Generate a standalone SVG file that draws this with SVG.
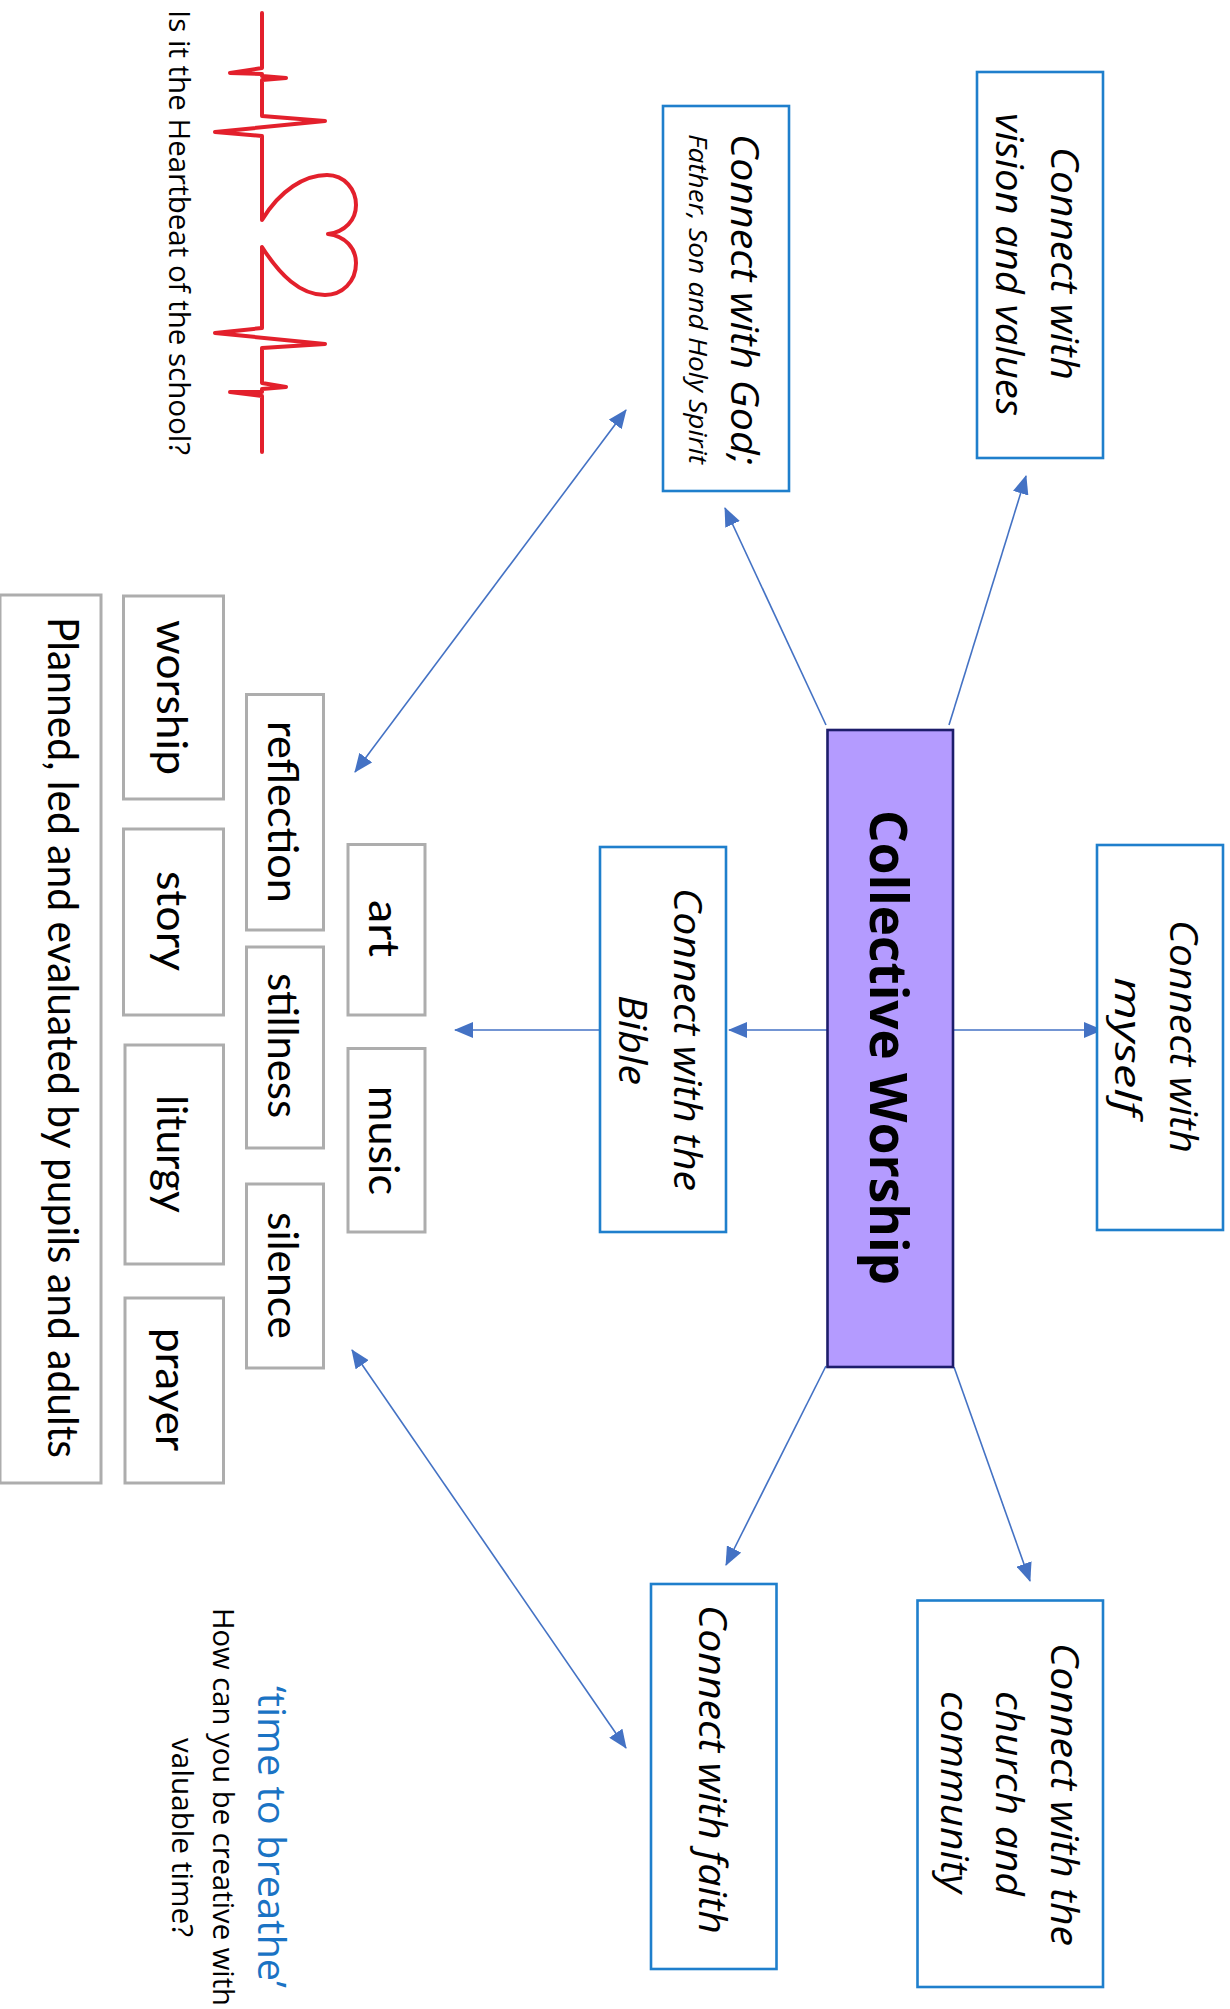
<svg xmlns="http://www.w3.org/2000/svg" width="1230" height="2009" viewBox="0 0 1230 2009">
<style>
.b{fill:#fff;stroke:#1f7fcc;stroke-width:2.6}
.g{fill:#fff;stroke:#adadad;stroke-width:3}
.c{fill:none;stroke:#4472c4;stroke-width:1.6}
.i{font-family:"Open Sans","Liberation Sans",sans-serif;font-style:italic;font-size:38px;fill:#000}
.l{font-family:"Lato","Liberation Sans",sans-serif;font-size:42px;fill:#000}
.n{font-family:"Open Sans","Liberation Sans",sans-serif;font-size:29px;fill:#000}
</style>
<defs>
<marker id="a" viewBox="0 0 19 16" refX="18" refY="8" markerUnits="userSpaceOnUse" markerWidth="19" markerHeight="16" orient="auto-start-reverse"><path d="M0 0L19 8L0 16Z" fill="#4472c4"/></marker>
</defs>
<rect width="1230" height="2009" fill="#fff"/>
<g id="connectors">
<line class="c" x1="949" y1="725" x2="1026" y2="476" marker-end="url(#a)"/>
<line class="c" x1="826" y1="725" x2="725" y2="508" marker-end="url(#a)"/>
<line class="c" x1="954" y1="1030" x2="1102" y2="1030" marker-end="url(#a)"/>
<line class="c" x1="827" y1="1030" x2="729" y2="1030" marker-end="url(#a)"/>
<line class="c" x1="599" y1="1030" x2="455" y2="1030" marker-end="url(#a)"/>
<line class="c" x1="954" y1="1367" x2="1030" y2="1581" marker-end="url(#a)"/>
<line class="c" x1="826" y1="1366" x2="726" y2="1565" marker-end="url(#a)"/>
<line class="c" x1="626" y1="410" x2="355" y2="772" marker-start="url(#a)" marker-end="url(#a)"/>
<line class="c" x1="626" y1="1748" x2="352" y2="1350" marker-start="url(#a)" marker-end="url(#a)"/>
</g>
<g id="heartbeat">
<path fill="none" stroke="#e3202c" stroke-width="4" stroke-linejoin="round" stroke-linecap="round" d="M262 13V68L230 73L262 74V76L286 78L262 80V116L325 121L215 132L262 136V220C280 190 305 175 327 175C345 175 356 190 356 205C356 220 345 232 328 234C345 236 356 248 356 263C356 282 342 295 325 295C300 295 280 275 262 247V328L215 333L325 344L262 348V383L286 387L262 389V392L230 392L262 396V452"/>
<text class="n" transform="translate(169,10) rotate(90)" textLength="445" lengthAdjust="spacingAndGlyphs">Is it the Heartbeat of the school?</text>
</g>
<g id="vision"><rect class="b" x="977" y="72" width="126" height="386"/>
<text class="i" transform="translate(1051,147) rotate(90)" textLength="233" lengthAdjust="spacingAndGlyphs">Connect with</text>
<text class="i" transform="translate(996,113) rotate(90)" textLength="303" lengthAdjust="spacingAndGlyphs">vision and values</text></g>
<g id="god"><rect class="b" x="663" y="106" width="126" height="385"/>
<text class="i" transform="translate(731,134) rotate(90)" textLength="331" lengthAdjust="spacingAndGlyphs">Connect with God;</text>
<text class="i" style="font-size:26px" transform="translate(689,134) rotate(90)" textLength="330" lengthAdjust="spacingAndGlyphs">Father, Son and Holy Spirit</text></g>
<g id="center"><rect x="827.5" y="730" width="125.5" height="637" fill="#b49bff" stroke="#1d1d6b" stroke-width="2.6"/>
<text transform="translate(870,810) rotate(90)" font-family="'Open Sans','Liberation Sans',sans-serif" font-weight="700" font-size="52" fill="#000" textLength="475" lengthAdjust="spacingAndGlyphs">Collective Worship</text></g>
<g id="myself"><rect class="b" x="1097" y="845" width="126" height="385"/>
<text class="i" transform="translate(1170,920) rotate(90)" textLength="233" lengthAdjust="spacingAndGlyphs">Connect with</text>
<text class="i" style="font-size:36px" transform="translate(1115,977) rotate(90)" textLength="139" lengthAdjust="spacingAndGlyphs">myself</text></g>
<g id="bible"><rect class="b" x="600" y="847" width="126" height="385"/>
<text class="i" transform="translate(674,888) rotate(90)" textLength="303" lengthAdjust="spacingAndGlyphs">Connect with the</text>
<text class="i" transform="translate(619,995) rotate(90)" textLength="90" lengthAdjust="spacingAndGlyphs">Bible</text></g>
<g id="church"><rect class="b" x="917.5" y="1600.5" width="185.5" height="386.5"/>
<text class="i" transform="translate(1051,1643) rotate(90)" textLength="303" lengthAdjust="spacingAndGlyphs">Connect with the</text>
<text class="i" transform="translate(996,1691) rotate(90)" textLength="205" lengthAdjust="spacingAndGlyphs">church and</text>
<text class="i" transform="translate(941,1691) rotate(90)" textLength="202" lengthAdjust="spacingAndGlyphs">community</text></g>
<g id="faith"><rect class="b" x="651" y="1584" width="125.5" height="385"/>
<text class="i" transform="translate(699,1605) rotate(90)" textLength="329" lengthAdjust="spacingAndGlyphs">Connect with faith</text></g>
<g id="art"><rect class="g" x="348" y="844.5" width="77" height="170.5"/>
<text class="l" transform="translate(369,900) rotate(90)" textLength="57" lengthAdjust="spacingAndGlyphs">art</text></g>
<g id="music"><rect class="g" x="348" y="1048.5" width="77" height="183.5"/>
<text class="l" transform="translate(369,1086) rotate(90)" textLength="109" lengthAdjust="spacingAndGlyphs">music</text></g>
<g id="reflection"><rect class="g" x="246.5" y="694.5" width="77" height="235.5"/>
<text class="l" transform="translate(268,721) rotate(90)" textLength="182" lengthAdjust="spacingAndGlyphs">reflection</text></g>
<g id="stillness"><rect class="g" x="246.5" y="947" width="77" height="201"/>
<text class="l" transform="translate(268,973) rotate(90)" textLength="145" lengthAdjust="spacingAndGlyphs">stillness</text></g>
<g id="silence"><rect class="g" x="246.5" y="1184" width="77" height="184"/>
<text class="l" transform="translate(268,1212) rotate(90)" textLength="127" lengthAdjust="spacingAndGlyphs">silence</text></g>
<g id="worship"><rect class="g" x="123.5" y="596" width="100" height="203"/>
<text class="l" transform="translate(157,620) rotate(90)" textLength="155" lengthAdjust="spacingAndGlyphs">worship</text></g>
<g id="story"><rect class="g" x="123.5" y="829" width="100" height="186"/>
<text class="l" transform="translate(157,871) rotate(90)" textLength="100" lengthAdjust="spacingAndGlyphs">story</text></g>
<g id="liturgy"><rect class="g" x="125" y="1045" width="98.5" height="219"/>
<text class="l" transform="translate(157,1095) rotate(90)" textLength="118" lengthAdjust="spacingAndGlyphs">liturgy</text></g>
<g id="prayer"><rect class="g" x="125" y="1298" width="98.5" height="185"/>
<text class="l" transform="translate(156,1328) rotate(90)" textLength="123" lengthAdjust="spacingAndGlyphs">prayer</text></g>
<g id="planned"><rect class="g" x="0" y="595" width="101" height="888"/>
<text class="l" transform="translate(48,617) rotate(90)" textLength="841" lengthAdjust="spacingAndGlyphs">Planned, led and evaluated by pupils and adults</text></g>
<g id="breathe">
<text transform="translate(258,1686) rotate(90)" font-family="'Open Sans','Liberation Sans',sans-serif" font-size="38" fill="#1a73c4" textLength="302" lengthAdjust="spacingAndGlyphs">‘time to breathe’</text>
<text class="n" transform="translate(213,1608) rotate(90)" textLength="398" lengthAdjust="spacingAndGlyphs">How can you be creative with</text>
<text class="n" transform="translate(172,1738) rotate(90)" textLength="199" lengthAdjust="spacingAndGlyphs">valuable time?</text>
</g>
</svg>
